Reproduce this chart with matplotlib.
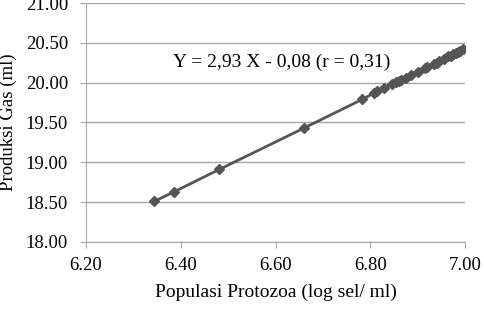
import matplotlib.pyplot as plt

# data
populasi = [6.344, 6.386, 6.481, 6.660, 6.783, 6.808, 6.815, 6.830, 6.845,
            6.855, 6.860, 6.865, 6.875, 6.885, 6.900, 6.915, 6.920, 6.935,
            6.940, 6.945, 6.955, 6.965, 6.970, 6.975, 6.980, 6.985, 6.990, 6.995]
produksi_gas = [18.51, 18.63, 18.91, 19.43, 19.79, 19.87, 19.89, 19.93, 19.98,
                20.01, 20.02, 20.03, 20.06, 20.09, 20.14, 20.18, 20.20, 20.24,
                20.25, 20.27, 20.30, 20.33, 20.34, 20.36, 20.37, 20.39, 20.40, 20.42]
x_ticks = [6.20, 6.40, 6.60, 6.80, 7.00]
y_ticks = [18.00, 18.50, 19.00, 19.50, 20.00, 20.50, 21.00]
persamaan = "Y = 2,93 X - 0,08 (r = 0,31)"

plt.rcParams['font.family'] = ['Liberation Serif', 'DejaVu Serif']

fig = plt.figure(figsize=(4.85, 3.16), dpi=100)
ax = fig.add_axes([0.1773, 0.2342, 0.7815, 0.7563])

grid_col = '#a6a6a6'
ax.plot(populasi, produksi_gas, color='#555555', lw=2, marker='D',
        markersize=5, zorder=3)

ax.set_xlim(6.20, 7.00)
ax.set_ylim(18.00, 21.00)
ax.set_xticks(x_ticks)
ax.set_yticks(y_ticks)
ax.set_xticklabels([f"{v:.2f}" for v in x_ticks])
ax.set_yticklabels([f"{v:.2f}" for v in y_ticks])
ax.grid(axis='y', color=grid_col, lw=1)
ax.set_axisbelow(True)

for s in ['top', 'right']:
    ax.spines[s].set_visible(False)
for s in ['left', 'bottom']:
    ax.spines[s].set_color(grid_col)
ax.tick_params(axis='both', colors=grid_col, labelcolor='black',
               labelsize=13.5, length=4.5, direction='out')
ax.tick_params(axis='x', pad=6)
ax.tick_params(axis='y', pad=8.5)

ax.set_xlabel("Populasi Protozoa (log sel/ ml)", fontsize=14, labelpad=7)
ax.set_ylabel("Produksi Gas (ml)", fontsize=13.5, labelpad=6)

ax.text(6.384, 20.26, persamaan, fontsize=14, ha='left', va='center')

fig.savefig('out.png', dpi=100)
